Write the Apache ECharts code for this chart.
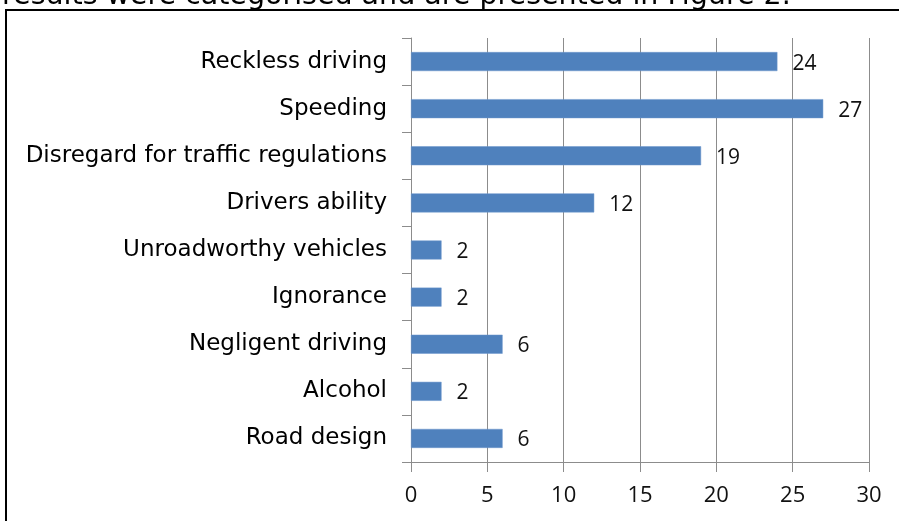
<!DOCTYPE html>
<html>
<head>
<meta charset="utf-8">
<script src="https://cdn.jsdelivr.net/npm/echarts@6/dist/echarts.min.js"></script>
<style>
html,body{margin:0;padding:0;background:#fff;}
#chart{width:899px;height:521px;}
</style>
</head>
<body>
<div id="chart"></div>
<script>
var categories = ['Reckless driving','Speeding','Disregard for traffic regulations','Drivers ability','Unroadworthy vehicles','Ignorance','Negligent driving','Alcohol','Road design'];
var values = [24, 27, 19, 12, 2, 2, 6, 2, 6];
var xTicks = [0, 5, 10, 15, 20, 25, 30];
var captionText = 'results were categorised and are presented in Figure 2.';

var chart = echarts.init(document.getElementById('chart'), null, {renderer:'canvas'});
var gridColor = '#8c8c8c';
chart.setOption({
  animation: false,
  backgroundColor: '#ffffff',
  grid: {left: 411, right: 30, top: 38, bottom: 59},
  xAxis: {
    type: 'value',
    min: xTicks[0], max: xTicks[xTicks.length-1], interval: xTicks[1]-xTicks[0],
    axisLine: {show: true, lineStyle: {color: gridColor, width: 1}},
    axisTick: {show: true, length: 10, lineStyle: {color: gridColor}},
    splitLine: {show: true, lineStyle: {color: gridColor, width: 1}},
    axisLabel: {fontFamily: 'Open Sans', fontSize: 22, color: '#111', margin: 23}
  },
  yAxis: {
    type: 'category',
    inverse: true,
    data: categories,
    axisLine: {show: true, lineStyle: {color: gridColor, width: 1}},
    axisTick: {show: true, length: 9, lineStyle: {color: gridColor}},
    axisLabel: {fontFamily: 'DejaVu Sans', fontSize: 23, color: '#000', margin: 24}
  },
  series: [{
    type: 'bar',
    data: values,
    barWidth: 19,
    itemStyle: {color: '#4f81bd', borderColor: '#6d97cc', borderWidth: 0.5},
    label: {show: true, position: 'right', distance: 15, offset: [0, 2], fontFamily: 'Open Sans', fontSize: 21, color: '#111'}
  }],
  graphic: [
    {type: 'text', left: 2, top: -18, silent: true,
     style: {text: captionText, fontFamily: 'DejaVu Sans', fontSize: 28.5, fill: '#000'}},
    {type: 'rect', silent: true, shape: {x: 6, y: 10, width: 1000, height: 600},
     style: {fill: 'none', stroke: '#000', lineWidth: 2}}
  ]
});
</script>
</body>
</html>
